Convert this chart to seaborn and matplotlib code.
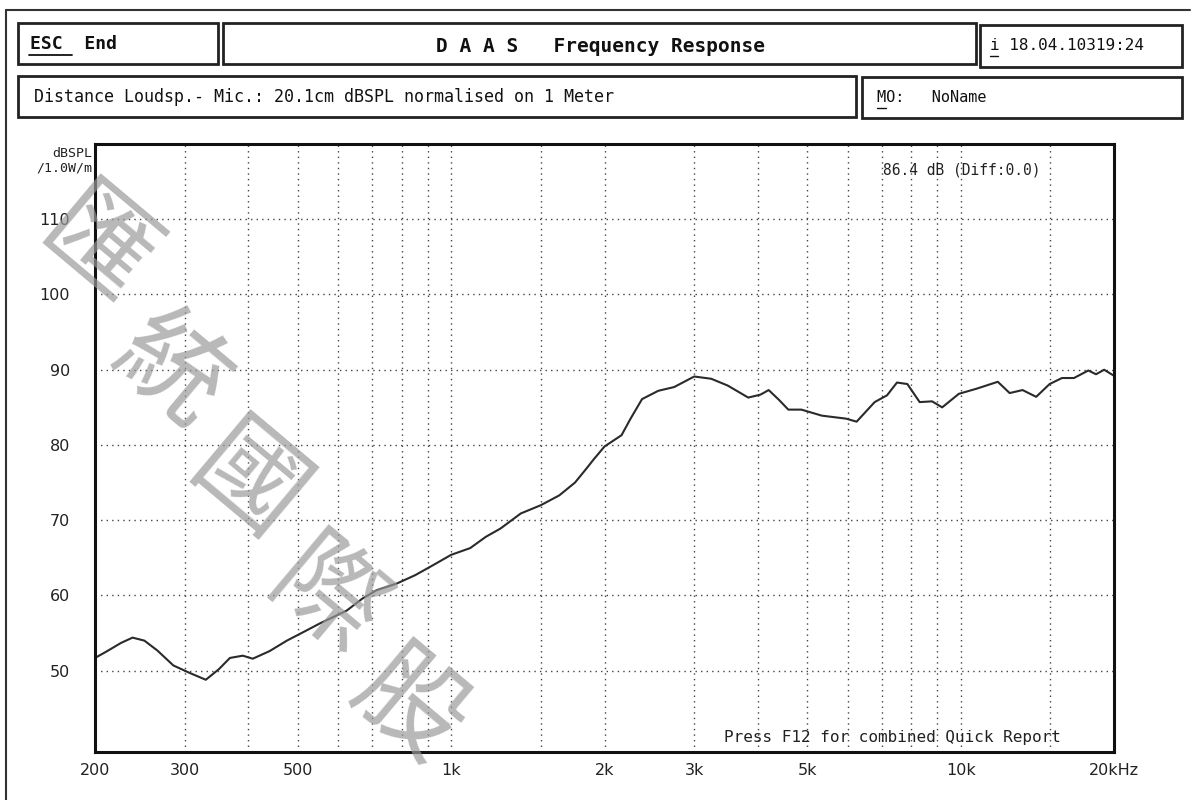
import matplotlib
matplotlib.use("Agg")
import matplotlib.pyplot as plt
import seaborn as sns
from matplotlib.patches import Rectangle
from matplotlib.lines import Line2D

# Frequency response readings (Hz / dBSPL)
freq_hz = [200, 210, 225, 237, 250, 265, 285, 307, 330, 350, 368, 390, 408,
           440, 476, 515, 553, 590, 624, 670, 714, 783, 850, 920, 1000, 1090,
           1170, 1250, 1370, 1500, 1630, 1750, 1850, 1900, 2000, 2160, 2250,
           2370, 2550, 2740, 3000, 3240, 3490, 3830, 4050, 4200, 4400, 4590,
           4870, 5340, 5960, 6250, 6780, 7170, 7500, 7860, 8310, 8790, 9200,
           9920, 10770, 11830, 12480, 13230, 14070, 14950, 15810, 16690,
           17810, 18440, 19130, 20000]
spl_db = [51.7, 52.5, 53.7, 54.4, 54.0, 52.7, 50.7, 49.7, 48.8, 50.2, 51.7,
          52.0, 51.6, 52.6, 54.0, 55.2, 56.3, 57.2, 58.0, 59.6, 60.7, 61.6,
          62.7, 64.0, 65.4, 66.3, 67.8, 68.9, 70.9, 72.0, 73.3, 75.0, 77.0,
          78.0, 79.8, 81.3, 83.5, 86.1, 87.2, 87.7, 89.1, 88.8, 87.9, 86.3,
          86.7, 87.3, 86.0, 84.7, 84.7, 83.9, 83.5, 83.1, 85.7, 86.6, 88.3,
          88.1, 85.7, 85.8, 85.0, 86.8, 87.5, 88.4, 86.9, 87.3, 86.4, 88.1,
          88.9, 88.9, 89.9, 89.4, 90.0, 89.2]

# Axis ticks and grid
x_ticks = [200, 300, 500, 1000, 2000, 3000, 5000, 10000, 20000]
x_tick_labels = ["200", "300", "500", "1k", "2k", "3k", "5k", "10k", "20kHz"]
x_grid = [300, 400, 500, 600, 700, 800, 900, 1000, 1500, 2000, 3000, 4000,
          5000, 6000, 7000, 8000, 9000, 10000, 15000]
y_ticks = [50, 60, 70, 80, 90, 100, 110]

# Header texts
esc_text = "ESC  End"
title_text = "D A A S   Frequency Response"
date_text = "i 18.04.10319:24"
info_text = "Distance Loudsp.- Mic.: 20.1cm dBSPL normalised on 1 Meter"
mo_text = "MO:   NoName"
level_text = "86.4 dB (Diff:0.0)"
footer_text = "Press F12 for combined Quick Report"
watermark_chars = ["匯", "統", "國", "際", "股"]

W, H = 1192, 800
MONO = "DejaVu Sans Mono"

sns.set_style("white")
plt.rcParams["font.family"] = ["DejaVu Sans"]

fig = plt.figure(figsize=(W / 100, H / 100), dpi=100)
fig.patch.set_facecolor("white")


def fx(px):
    return px / W


def fy(py):
    return 1 - py / H


def box(x0, y0, x1, y1, lw=2.0):
    fig.add_artist(Rectangle((fx(x0), fy(y1)), fx(x1) - fx(x0), fy(y0) - fy(y1),
                             fill=False, edgecolor="#222222", linewidth=lw,
                             transform=fig.transFigure))


# outer frame (top and left edge of the printout)
fig.add_artist(Line2D([fx(6), fx(1190)], [fy(10), fy(10)], color="#333333", lw=1.5))
fig.add_artist(Line2D([fx(6), fx(6)], [fy(10), fy(800)], color="#333333", lw=1.5))

# header boxes
box(18, 23, 218, 64)
box(223, 23, 976, 64)
box(980, 25, 1182, 67)
box(18, 76, 856, 117)
box(862, 77, 1182, 118)

fig.text(fx(30), fy(44), esc_text, family=MONO, fontsize=13, fontweight="bold",
         va="center", ha="left", color="#111111")
fig.add_artist(Line2D([fx(29), fx(72)], [fy(55), fy(55)], color="#111111", lw=1.3))
fig.text(fx(600), fy(46), title_text, family=MONO, fontsize=14, fontweight="bold",
         va="center", ha="center", color="#111111")
fig.text(fx(990), fy(46), date_text, family=MONO, fontsize=11.5,
         va="center", ha="left", color="#111111")
fig.add_artist(Line2D([fx(990), fx(998)], [fy(56), fy(56)], color="#111111", lw=1.0))
fig.text(fx(34), fy(97), info_text, family=MONO, fontsize=12,
         va="center", ha="left", color="#111111")
fig.text(fx(877), fy(98), mo_text, family=MONO, fontsize=11,
         va="center", ha="left", color="#111111")
fig.add_artist(Line2D([fx(877), fx(886)], [fy(108), fy(108)], color="#111111", lw=1.0))

# plot area
ax = fig.add_axes([fx(95), 1 - 752 / H, fx(1114) - fx(95), (752 - 144) / H])
sns.lineplot(x=freq_hz, y=spl_db, ax=ax, color="#2a2a2a", linewidth=1.5, sort=False)
ax.set_xscale("log")
ax.set_xlim(200, 20000)
ax.set_ylim(39.2, 120)

for f in x_grid:
    ax.axvline(f, color="#444444", linestyle=(0, (1, 3)), linewidth=1.0, zorder=0)
for y in y_ticks:
    ax.axhline(y, color="#444444", linestyle=(0, (1, 3)), linewidth=1.0, zorder=0)

ax.set_xticks(x_ticks)
ax.set_xticklabels(x_tick_labels)
ax.xaxis.set_minor_locator(matplotlib.ticker.NullLocator())
ax.set_yticks(y_ticks)
ax.tick_params(axis="both", length=0, labelsize=11.5, colors="#222222")
ax.tick_params(axis="y", pad=18)
ax.tick_params(axis="x", pad=8)
ax.set_xlabel("")
ax.set_ylabel("")
for sp in ax.spines.values():
    sp.set_visible(True)
    sp.set_color("#111111")
    sp.set_linewidth(2.2)

ax.text(-0.003, 0.995, "dBSPL\n/1.0W/m", transform=ax.transAxes, ha="right",
        va="top", family=MONO, fontsize=9.5, color="#222222", linespacing=1.1)
ax.text(0.773, 0.957, level_text, transform=ax.transAxes, ha="left", va="center",
        family=MONO, fontsize=10.5, color="#222222")
ax.text(0.617, 0.012, footer_text, transform=ax.transAxes, ha="left",
        va="bottom", family=MONO, fontsize=11.5, color="#222222")

# diagonal watermark
wm_pos = [(95, 250), (170, 372), (246, 486), (324, 602), (408, 708)]
for ch, (px, py) in zip(watermark_chars, wm_pos):
    fig.text(fx(px), fy(py), ch, family=["Noto Sans CJK TC", "DejaVu Sans"],
             fontsize=78, rotation=-40, ha="center", va="center",
             color="#9a9a9a", alpha=0.7, zorder=10)

fig.savefig("out.png", dpi=100, facecolor="white")
